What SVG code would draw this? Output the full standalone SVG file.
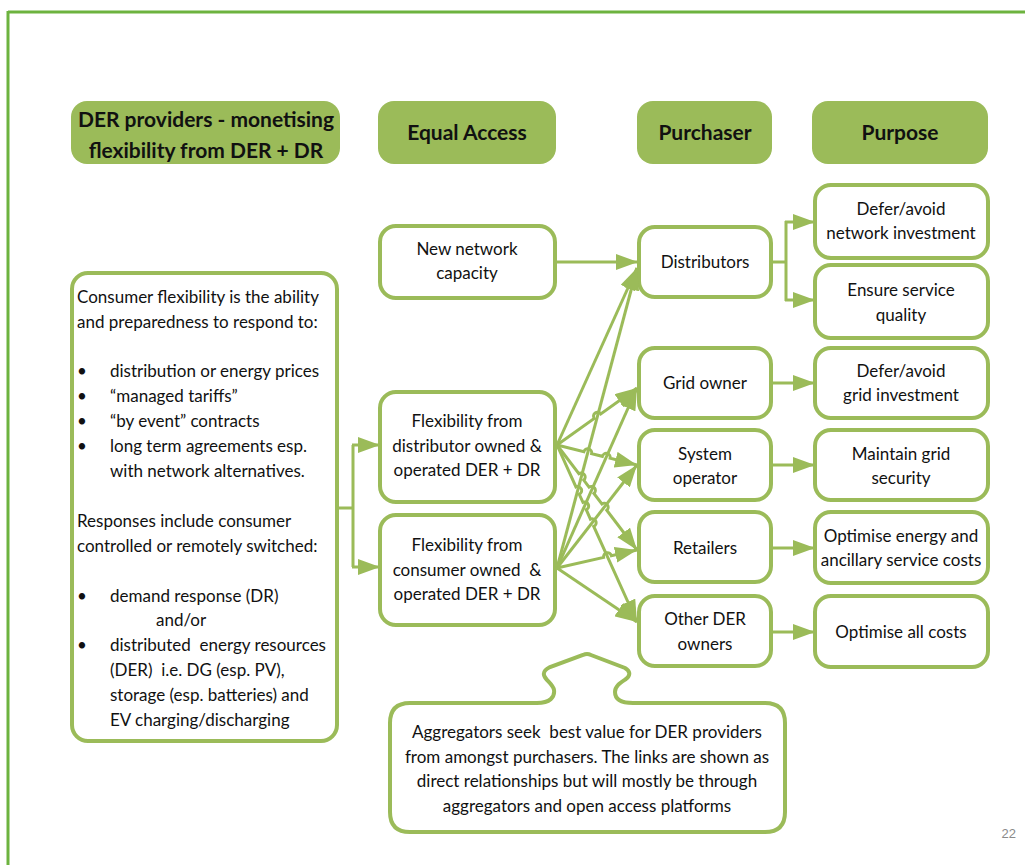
<svg xmlns="http://www.w3.org/2000/svg" width="1025" height="865" viewBox="0 0 1025 865">
<style>
.box{fill:#fff;stroke:#9bbb59;stroke-width:4}
.hdr{fill:#9bbb59;stroke:none}
.t{font-family:Lato,"Liberation Sans",sans-serif;font-size:17px;fill:#111}
.c{text-anchor:middle}
.h{font-family:Lato,"Liberation Sans",sans-serif;font-size:21px;font-weight:bold;fill:#111;text-anchor:middle}
.ln{fill:none;stroke:#9bbb59;stroke-width:3}
.ar{marker-end:url(#ah)}
</style>
<defs>
<marker id="ah" markerUnits="userSpaceOnUse" markerWidth="22" markerHeight="16" refX="22" refY="8" orient="auto" viewBox="0 0 22 16">
<path d="M0,0 L22,8 L0,16 z" fill="#9bbb59"/>
</marker>
</defs>
<rect width="1025" height="865" fill="#fff"/>
<g id="frame">
<line x1="8" y1="12" x2="1025" y2="12" stroke="#6db33f" stroke-width="3"/>
<line x1="8" y1="11" x2="8" y2="865" stroke="#6db33f" stroke-width="3"/>
</g>
<g id="header-der">
<rect class="hdr" x="71" y="101" width="269" height="63" rx="16"/>
<text class="h" x="206" y="127">DER providers - monetising</text>
<text class="h" x="206" y="158">flexibility from DER + DR</text>
</g>
<g id="header-equal">
<rect class="hdr" x="378" y="101" width="178" height="63" rx="16"/>
<text class="h" x="467" y="140">Equal Access</text>
</g>
<g id="header-purchaser">
<rect class="hdr" x="637" y="101" width="135" height="63" rx="16"/>
<text class="h" x="705" y="140">Purchaser</text>
</g>
<g id="header-purpose">
<rect class="hdr" x="812" y="101" width="176" height="63" rx="16"/>
<text class="h" x="900" y="140">Purpose</text>
</g>
<g id="consumer">
<rect class="box" x="72" y="273" width="265" height="468" rx="16"/>
<text class="t" x="77" y="303">Consumer flexibility is the ability</text>
<text class="t" x="77" y="328">and preparedness to respond to:</text>
<text class="t" x="77" y="377">•</text><text class="t" x="110" y="377">distribution or energy prices</text>
<text class="t" x="77" y="402">•</text><text class="t" x="110" y="402">“managed tariffs”</text>
<text class="t" x="77" y="427">•</text><text class="t" x="110" y="427">“by event” contracts</text>
<text class="t" x="77" y="452">•</text><text class="t" x="110" y="452">long term agreements esp.</text>
<text class="t" x="110" y="477">with network alternatives.</text>
<text class="t" x="77" y="527">Responses include consumer</text>
<text class="t" x="77" y="552">controlled or remotely switched:</text>
<text class="t" x="77" y="602">•</text><text class="t" x="110" y="602">demand response (DR)</text>
<text class="t" x="156" y="626">and/or</text>
<text class="t" x="77" y="651">•</text><text class="t" x="110" y="651" xml:space="preserve">distributed  energy resources</text>
<text class="t" x="110" y="676" xml:space="preserve">(DER)  i.e. DG (esp. PV),</text>
<text class="t" x="110" y="701">storage (esp. batteries) and</text>
<text class="t" x="110" y="726">EV charging/discharging</text>
</g>
<g id="new-network">
<rect class="box" x="380" y="226" width="175" height="72" rx="16"/>
<text class="t c" x="467" y="255">New network</text>
<text class="t c" x="467" y="279">capacity</text>
</g>
<g id="flex-distributor">
<rect class="box" x="380" y="392" width="175" height="110" rx="16"/>
<text class="t c" x="467" y="427">Flexibility from</text>
<text class="t c" x="467" y="452">distributor owned &amp;</text>
<text class="t c" x="467" y="476">operated DER + DR</text>
</g>
<g id="flex-consumer">
<rect class="box" x="380" y="515" width="175" height="110" rx="16"/>
<text class="t c" x="467" y="551">Flexibility from</text>
<text class="t c" x="467" y="576" xml:space="preserve">consumer owned  &amp;</text>
<text class="t c" x="467" y="600">operated DER + DR</text>
</g>
<g id="distributors">
<rect class="box" x="639" y="227" width="132" height="70" rx="16"/>
<text class="t c" x="705" y="268">Distributors</text>
</g>
<g id="grid-owner">
<rect class="box" x="639" y="348" width="132" height="70" rx="16"/>
<text class="t c" x="705" y="389">Grid owner</text>
</g>
<g id="system-operator">
<rect class="box" x="639" y="430" width="132" height="70" rx="16"/>
<text class="t c" x="705" y="460">System</text>
<text class="t c" x="705" y="484">operator</text>
</g>
<g id="retailers">
<rect class="box" x="639" y="512" width="132" height="70" rx="16"/>
<text class="t c" x="705" y="554">Retailers</text>
</g>
<g id="other-der">
<rect class="box" x="639" y="596" width="132" height="70" rx="16"/>
<text class="t c" x="705" y="625">Other DER</text>
<text class="t c" x="705" y="650">owners</text>
</g>
<g id="p-network">
<rect class="box" x="815" y="185" width="173" height="73" rx="16"/>
<text class="t c" x="901" y="215">Defer/avoid</text>
<text class="t c" x="901" y="239">network investment</text>
</g>
<g id="p-quality">
<rect class="box" x="815" y="265" width="173" height="73" rx="16"/>
<text class="t c" x="901" y="296">Ensure service</text>
<text class="t c" x="901" y="321">quality</text>
</g>
<g id="p-grid">
<rect class="box" x="815" y="348" width="173" height="70" rx="16"/>
<text class="t c" x="901" y="377">Defer/avoid</text>
<text class="t c" x="901" y="401">grid investment</text>
</g>
<g id="p-security">
<rect class="box" x="815" y="430" width="173" height="70" rx="16"/>
<text class="t c" x="901" y="460">Maintain grid</text>
<text class="t c" x="901" y="484">security</text>
</g>
<g id="p-energy">
<rect class="box" x="815" y="512" width="173" height="71" rx="16"/>
<text class="t c" x="901" y="542">Optimise energy and</text>
<text class="t c" x="901" y="566">ancillary service costs</text>
</g>
<g id="p-all">
<rect class="box" x="815" y="596" width="173" height="71" rx="16"/>
<text class="t c" x="901" y="638">Optimise all costs</text>
</g>
<g id="aggregators">
<path class="box" d="M390,723 Q390,703 410,703 L537,703 C550,703 555,697 554,690 C553,684 545,680 544,675 C543,671 546,669 550,667 L583,655 Q587,653 591,655 L625,668 C630,671 631,675 626,679 C620,683 615,686 615,692 C615,699 621,703 633,703 L765,703 Q785,703 785,723 L785,812 Q785,832 765,832 L410,832 Q390,832 390,812 Z"/>
<text class="t c" x="587" y="738" xml:space="preserve">Aggregators seek  best value for DER providers</text>
<text class="t c" x="587" y="763">from amongst purchasers. The links are shown as</text>
<text class="t c" x="587" y="787">direct relationships but will mostly be through</text>
<text class="t c" x="587" y="812">aggregators and open access platforms</text>
</g>
<g id="connectors">
<path class="ln" d="M337,508 H353 M353,445 V567"/>
<path class="ln ar" d="M352,445 H380"/>
<path class="ln ar" d="M352,567 H380"/>
<path class="ln ar" d="M557,262 H638"/>
<path class="ln" d="M771,262 H786 M786,221 V301"/>
<path class="ln ar" d="M785,222 H815"/>
<path class="ln ar" d="M785,300 H815"/>
<path class="ln ar" d="M771,383 H815"/>
<path class="ln ar" d="M771,465 H815"/>
<path class="ln ar" d="M771,548 H815"/>
<path class="ln ar" d="M771,632 H815"/>
<path class="ln ar" d="M557,445 L637,268"/>
<path class="ln ar" d="M557,568 L637,268"/>
<path class="ln ar" d="M557,568 L637,388"/>
<path class="ln ar" d="M557,568 L637,465"/>
<path class="ln ar" d="M557,568 L637,622"/>
<path class="ln ar" d="M557,445 L594.24,418.52 A4,4 0 0 1 600.76,413.88 L637,388"/>
<path class="ln ar" d="M557,445 L583.87,451.72 A4,4 0 0 1 591.63,453.66 L602.32,456.33 A4,4 0 0 1 610.08,458.27 L637,465"/>
<path class="ln ar" d="M557,445 L578.88,473.72 A4,4 0 0 1 583.72,480.08 L589.08,487.12 A4,4 0 0 1 593.92,493.48 L601.88,503.92 A4,4 0 0 1 606.72,510.28 L637,550"/>
<path class="ln ar" d="M557,445 L575.95,486.95 A4,4 0 0 1 579.25,494.25 L582.95,502.35 A4,4 0 0 1 586.25,509.65 L590.45,519.15 A4,4 0 0 1 593.75,526.45 L637,622"/>
<path class="ln ar" d="M557,568 L603.6,557.48 A4,4 0 0 1 611.4,555.72 L637,550"/>
</g>
<text x="1016" y="838" font-family="Liberation Sans,Arial,sans-serif" font-size="13" fill="#8a8a8a" text-anchor="end">22</text>
</svg>
